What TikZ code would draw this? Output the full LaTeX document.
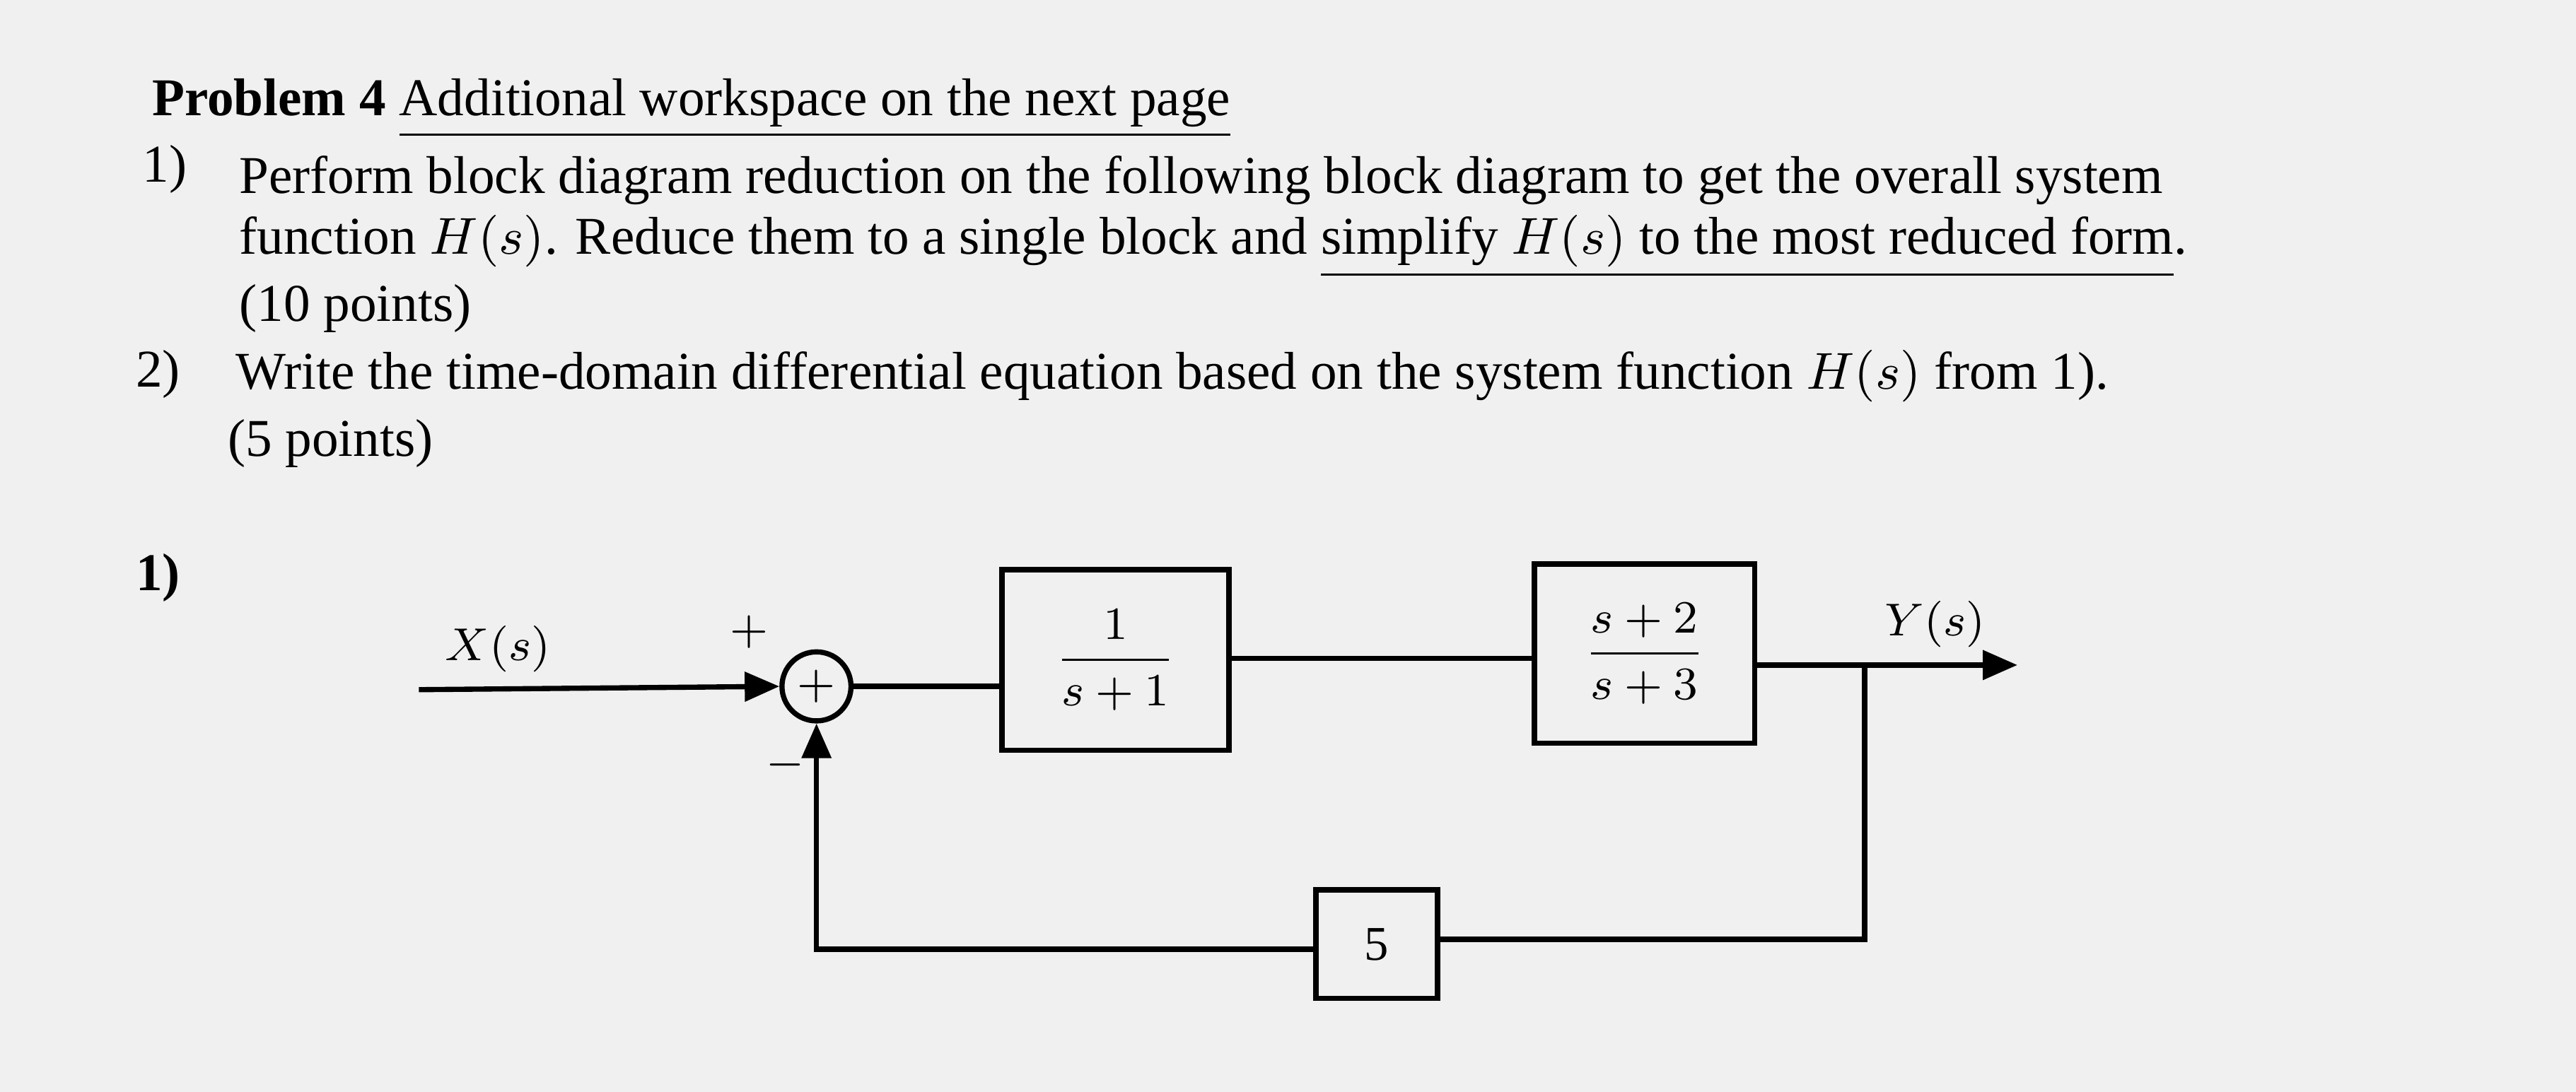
\documentclass[tikz,border=0pt]{standalone}
\usepackage{amsmath}
\usepackage{fontspec}
\setmainfont{Liberation Serif}
\usetikzlibrary{arrows.meta}
\begin{document}
\begin{tikzpicture}[x=0.01cm,y=-0.01cm,
  txt/.style={anchor=west,inner sep=0pt,font=\fontsize{9.2pt}{11pt}\selectfont},
  blk/.style={draw,line width=0.9pt,inner sep=0pt},
  ln/.style={line width=0.9pt},
  dtxt/.style={inner sep=0pt,font=\fontsize{8.4pt}{9pt}\selectfont}]
\fill[gray!12] (0,0) rectangle (1568,665);
\useasboundingbox (0,0) rectangle (1568,665);
\node[txt] (t1) at (92,66) {\textbf{Problem 4} \underline{Additional workspace on the next page}};
\node[txt] (n1) at (86,103) {1)};
\node[txt] (t2) at (145,110) {Perform block diagram reduction on the following block diagram to get the overall system};
\node[txt] (t3) at (145,150) {function $H(s)$. Reduce them to a single block and \underline{simplify $H(s)$ to the most reduced form}.};
\node[txt] (t4) at (145,188) {(10 points)};
\node[txt] (n2) at (82,228) {2)};
\node[txt] (t5) at (143,229) {Write the time-domain differential equation based on the system function $H(s)$ from 1).};
\node[txt] (t6) at (138,270) {(5 points)};
\node[txt] (h1) at (82,352) {\textbf{1)}};
% diagram
\coordinate (xin) at (255,420);
\node[draw,circle,ln,minimum size=0.42cm,inner sep=0pt,dtxt] (sum) at (497,418) {$+$};
\node[blk,minimum width=1.38cm,minimum height=1.10cm,dtxt] (b1) at (679,402) {$\dfrac{1}{s+1}$};
\node[blk,minimum width=1.34cm,minimum height=1.09cm,dtxt] (b2) at (1001,398) {$\dfrac{s+2}{s+3}$};
\node[blk,minimum width=0.74cm,minimum height=0.66cm,dtxt] (b5) at (838,575) {5};
\coordinate (yout) at (1228,405);
\coordinate (br) at (1135,405);
\coordinate (fb1) at (1135,572);
\coordinate (fb2) at (497,578);
\draw[ln,-{Triangle[length=6pt,width=5pt]}] (xin) -- (sum.west);
\draw[ln] (sum.east) -- (sum.east -| b1.west);
\draw[ln] (b1.east |- 0,401) -- (b2.west |- 0,401);
\draw[ln,-{Triangle[length=6pt,width=5pt]}] (b2.east |- yout) -- (yout);
\draw[ln] (br) -- (fb1) -- (b5.east |- fb1);
\draw[ln,-{Triangle[length=6pt,width=5pt]}] (b5.west |- fb2) -- (fb2) -- (sum.south);
\node[dtxt] (lx) at (303,395) {$X(s)$};
\node[dtxt] (lp) at (456,385) {$+$};
\node[dtxt] (lm) at (478,466) {$-$};
\node[dtxt] (ly) at (1178,380) {$Y(s)$};
\end{tikzpicture}
\end{document}
